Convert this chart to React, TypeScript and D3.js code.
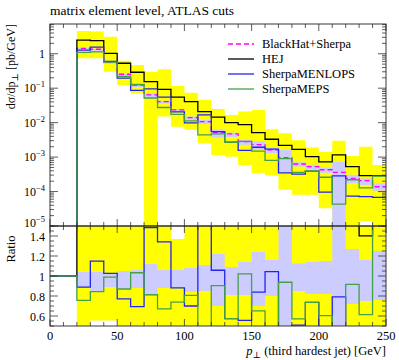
import React from "react";
import * as d3 from "d3";

// bin edges in GeV (10 GeV bins)
const binEdges = [0, 10, 20, 30, 40, 50, 60, 70, 80, 90, 100, 110, 120, 130, 140, 150, 160, 170, 180, 190, 200, 210, 220, 230, 240, 250];

// dσ/dp⊥ per bin
const blackhat = [0, 0, 1.44, 1.35, 0.58, 0.254, 0.124, 0.064, 0.041, 0.0234, 0.014, 0.0107, 0.0052, 0.0047, 0.0028, 0.0023, 0.00163, 0.00096, 0.00063, 0.00053, 0.00043, 0.00036, 0.00024, 0.000207, 0.000138];
const hej = [0, 0, 2.5, 2.4, 1.03, 0.53, 0.29, 0.155, 0.093, 0.055, 0.041, 0.0209, 0.0144, 0.01, 0.0088, 0.0051, 0.0033, 0.0022, 0.00168, 0.00103, 0.00073, 0.00116, 0.00053, 0.00029, 0.00029];
const menlops = [0, 0, 1.28, 1.55, 0.595, 0.196, 0.086, 0.095, 0.055, 0.0206, 0.0098, 0.0167, 0.0055, 0.0027, 0.00156, 0.00193, 0.0017, 0.00035, 0.00032, 0.00039, 0.0000966, 0.000285, 0.000074, 0.000071, 0.000068];
const meps = [0, 0, 1.09, 1.14, 0.574, 0.221, 0.128, 0.052, 0.0275, 0.0173, 0.0113, 0.0044, 0.0047, 0.0027, 0.00286, 0.0015, 0.0008, 0.0009, 0.00036, 0.00039, 0.00026, 0.000043, 0.00022, 0.000127, 0.00028];

// HEJ uncertainty band (yellow), top panel
const hejBandLo = [0, 0, 0.74, 0.74, 0.3, 0.124, 0.071, 1e-7, 0.015, 0.0076, 0.0062, 0.0025, 0.00115, 0.00103, 0.00059, 0.00034, 0.00029, 0.000112, 0.000081, 0.000081, 0.0000328, 1e-7, 1e-7, 0.000014, 1e-7];
const hejBandHi = [0, 0, 4.6, 4.4, 3.1, 0.63, 0.47, 0.3, 0.355, 0.116, 0.074, 0.046, 0.025, 0.0167, 0.0209, 0.0234, 0.0064, 0.0049, 0.0031, 0.00189, 0.00143, 0.003, 0.00107, 0.002, 0.00059];

// BlackHat+Sherpa band (lavender) as ratio to its central value
const refBandLo = [0, 0, 0.89, 0.85, 0.89, 0.87, 0.88, 0.8, 0.88, 0.88, 0.84, 0.85, 0.7, 0.81, 0.81, 0.7, 0.8, 0.37, 0.85, 0.82, 0.82, 0.001, 0.72, 0.75, 0.76];
const refBandHi = [0, 0, 1.04, 1.04, 1.02, 1.05, 1.06, 1.12, 1.06, 1.06, 1.08, 1.11, 1.22, 1.09, 1.14, 1.24, 1.16, 1.7, 1.125, 1.14, 1.15, 2.0, 1.27, 1.16, 1.25];

// HEJ band in the ratio panel (yellow)
const hejRatioLo = [0, 0, 0.3, 0.556, 0.556, 0.3, 0.3, 0.3, 0.3, 0.3, 0.3, 0.3, 0.3, 0.3, 0.3, 0.3, 0.3, 0.3, 0.3, 0.3, 0.3, 0.3, 0.3, 0.3, 0.3];
const hejRatioHi = [0, 0, 2, 2, 2, 2, 2, 2, 2, 1.37, 2, 2, 2, 2, 2, 2, 2, 2, 2, 2, 2, 2, 2, 2, 2];

const yDecades = [-5, -4, -3, -2, -1, 0];
const ratioLabels = [0.6, 0.8, 1, 1.2, 1.4];
const xLabels = [0, 50, 100, 150, 200, 250];

const series = [
  { name: "BlackHat+Sherpa", vals: blackhat, color: "#ff00ff", dash: "5,3" },
  { name: "HEJ", vals: hej, color: "#000000", dash: null },
  { name: "SherpaMENLOPS", vals: menlops, color: "#2424f0", dash: null },
  { name: "SherpaMEPS", vals: meps, color: "#46a046", dash: null },
];

const FONT = "'Liberation Serif', 'DejaVu Serif', serif";

export default function App() {
  const left = 50, right = 386;
  const top0 = 24, top1 = 226, rat0 = 226, rat1 = 326;

  const x = d3.scaleLinear().domain([0, 250]).range([left, right]);
  const yTop = d3.scaleLog().domain([1e-5, 7.3]).range([top1, top0]);
  const yRat = d3.scaleLinear().domain([0.5, 1.5]).range([rat1, rat0]);
  const safe = (v: number) => Math.max(v, 1e-8);

  // step points: one per bin plus the closing edge
  const stepPts = (vals: number[]) => {
    const pts = vals.map((v, i) => [binEdges[i], v]);
    pts.push([binEdges[vals.length], vals[vals.length - 1]]);
    return pts;
  };
  const bandPts = (lo: number[], hi: number[]) => {
    const pts: number[][] = [];
    lo.forEach((l, i) => { if (hi[i] > 0) pts.push([binEdges[i], l, hi[i]]); });
    const last = pts[pts.length - 1];
    pts.push([250, last[1], last[2]]);
    return pts;
  };

  const lineTop = d3.line<number[]>().x((d) => x(d[0])).y((d) => yTop(safe(d[1]))).curve(d3.curveStepAfter);
  const lineRat = d3.line<number[]>().x((d) => x(d[0])).y((d) => yRat(Math.max(0.3, Math.min(2, d[1])))).curve(d3.curveStepAfter);
  const areaTop = d3.area<number[]>().x((d) => x(d[0])).y0((d) => yTop(safe(d[1]))).y1((d) => yTop(safe(d[2]))).curve(d3.curveStepAfter);
  const areaRat = d3.area<number[]>().x((d) => x(d[0])).y0((d) => yRat(Math.max(0.3, d[1]))).y1((d) => yRat(Math.min(2, d[2]))).curve(d3.curveStepAfter);

  const refLoTop = blackhat.map((v, i) => v * refBandLo[i]);
  const refHiTop = blackhat.map((v, i) => v * refBandHi[i]);
  const ratio = (vals: number[]) => vals.map((v, i) => (blackhat[i] > 0 ? v / blackhat[i] : 1));

  // ticks
  const logTicks: { v: number; major: boolean }[] = [];
  for (let d = -5; d <= 0; d++) {
    for (let k = 1; k <= 9; k++) {
      const v = k * Math.pow(10, d);
      if (v <= 7.3) logTicks.push({ v, major: k === 1 });
    }
  }
  const xTicks = d3.range(0, 251, 10).map((v) => ({ v, major: v % 50 === 0 }));
  const ratTicks = d3.range(0.5, 1.501, 0.05).map((v) => ({ v, major: Math.abs(v * 5 - Math.round(v * 5)) < 1e-6 }));

  const tickStroke = "#333";
  const tickLines: JSX.Element[] = [];
  logTicks.forEach((t, i) => {
    const y = yTop(t.v);
    const len = t.major ? 8 : 4;
    tickLines.push(<line key={"ly" + i} x1={left} x2={left + len} y1={y} y2={y} />);
    tickLines.push(<line key={"ry" + i} x1={right} x2={right - len} y1={y} y2={y} />);
  });
  ratTicks.forEach((t, i) => {
    const y = yRat(t.v);
    const len = t.major ? 8 : 4;
    tickLines.push(<line key={"lr" + i} x1={left} x2={left + len} y1={y} y2={y} />);
    tickLines.push(<line key={"rr" + i} x1={right} x2={right - len} y1={y} y2={y} />);
  });
  xTicks.forEach((t, i) => {
    const xx = x(t.v);
    const len = t.major ? 7 : 4;
    tickLines.push(<line key={"xa" + i} x1={xx} x2={xx} y1={top0} y2={top0 + len} />);
    tickLines.push(<line key={"xb" + i} x1={xx} x2={xx} y1={top1} y2={top1 - len} />);
    tickLines.push(<line key={"xc" + i} x1={xx} x2={xx} y1={rat0} y2={rat0 + len} />);
    tickLines.push(<line key={"xd" + i} x1={xx} x2={xx} y1={rat1} y2={rat1 - len} />);
  });

  return (
    <svg width={399} height={360} style={{ position: "absolute", left: 0, top: 0, background: "#fff" }} fontFamily={FONT}>
      <defs>
        <clipPath id="clipTop"><rect x={left} y={top0} width={right - left} height={top1 - top0} /></clipPath>
        <clipPath id="clipRat"><rect x={left} y={rat0} width={right - left} height={rat1 - rat0} /></clipPath>
      </defs>

      <text x={left} y={15} fontSize={13.5}>matrix element level, ATLAS cuts</text>

      {/* top panel */}
      <g clipPath="url(#clipTop)">
        <path d={areaTop(bandPts(hejBandLo, hejBandHi)) || ""} fill="#ffff00" />
        <path d={areaTop(bandPts(refLoTop, refHiTop)) || ""} fill="#ccccff" />
        {series.map((s) => (
          <path key={s.name} d={lineTop(stepPts(s.vals)) || ""} fill="none" stroke={s.color} strokeWidth={1.3} strokeDasharray={s.dash || undefined} />
        ))}
      </g>

      {/* ratio panel */}
      <g clipPath="url(#clipRat)">
        <path d={areaRat(bandPts(hejRatioLo, hejRatioHi)) || ""} fill="#ffff00" />
        <path d={areaRat(bandPts(refBandLo, refBandHi)) || ""} fill="#ccccff" />
        {series.slice(1).map((s) => (
          <path key={s.name} d={lineRat(stepPts(ratio(s.vals))) || ""} fill="none" stroke={s.color} strokeWidth={1.3} />
        ))}
      </g>

      <g stroke={tickStroke} strokeWidth={0.8}>{tickLines}</g>
      <rect x={left} y={top0} width={right - left} height={top1 - top0} fill="none" stroke="#222" strokeWidth={0.9} />
      <rect x={left} y={rat0} width={right - left} height={rat1 - rat0} fill="none" stroke="#222" strokeWidth={0.9} />

      {/* legend */}
      {series.map((s, i) => (
        <g key={s.name} transform={`translate(0,${44 + i * 15})`}>
          <line x1={228} x2={254} y1={0} y2={0} stroke={s.color} strokeWidth={1.3} strokeDasharray={s.dash || undefined} />
          <text x={262} y={4} fontSize={12.5}>{s.name}</text>
        </g>
      ))}

      {/* y tick labels, top */}
      {yDecades.map((d) => (
        <text key={d} x={45} y={yTop(Math.pow(10, d)) + (d === -5 ? 1 : 4)} fontSize={12} textAnchor="end">
          {d === 0 ? "1" : (
            <>10<tspan dy={-5} fontSize={8.5}>{"\u2212" + Math.abs(d)}</tspan></>
          )}
        </text>
      ))}
      {/* y tick labels, ratio */}
      {ratioLabels.map((r) => (
        <text key={r} x={45} y={yRat(r) + 4.5} fontSize={12} textAnchor="end">{String(r)}</text>
      ))}
      {/* x tick labels */}
      {xLabels.map((v) => (
        <text key={v} x={x(v)} y={340} fontSize={12.5} textAnchor="middle">{v}</text>
      ))}

      <text transform={`translate(15,${top0}) rotate(-90)`} fontSize={12} textAnchor="end">
        dσ/d<tspan>p</tspan><tspan dy={3} fontSize={9}>⊥</tspan><tspan dy={-3}> [pb/GeV]</tspan>
      </text>
      <text transform={`translate(15,249) rotate(-90)`} fontSize={12.5} textAnchor="middle">Ratio</text>
      <text x={right} y={355} fontSize={12.5} textAnchor="end">
        <tspan fontStyle="italic">p</tspan><tspan dy={3} fontSize={9}>⊥</tspan><tspan dy={-3}> (third hardest jet) [GeV]</tspan>
      </text>
    </svg>
  );
}
